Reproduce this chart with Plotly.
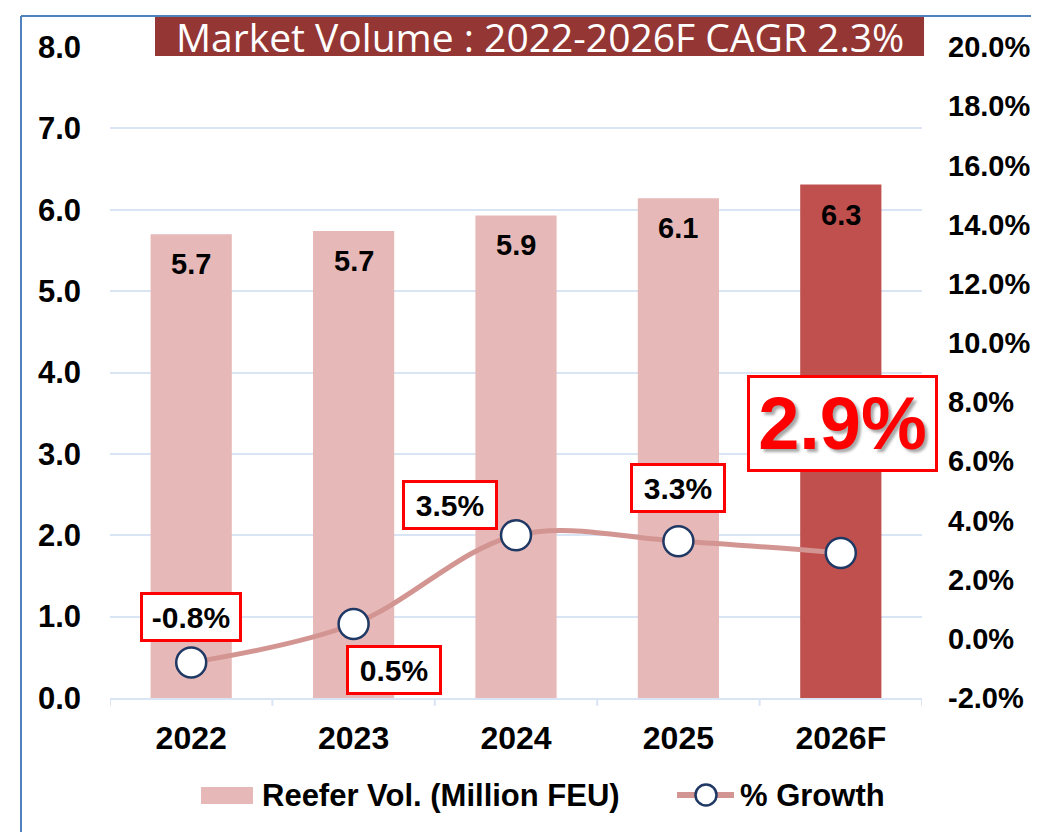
import plotly.graph_objects as go

# ---- data ----
categories = ["2022", "2023", "2024", "2025", "2026F"]
volume = [5.70, 5.74, 5.93, 6.14, 6.31]          # Reefer Vol. (Million FEU)
growth = [-0.8, 0.5, 3.5, 3.3, 2.9]              # % Growth
growth_ticks = [-2, 0, 2, 4, 6, 8, 10, 12, 14, 16, 18, 20]
growth_tick_labels = [f"{t:.1f}%" for t in growth_ticks]
title_text = "Market Volume : 2022-2026F CAGR 2.3%"
bar_name = "Reefer Vol. (Million FEU)"
line_name = "% Growth"

# ---- styles ----
FONT = "Liberation Sans, Arial, sans-serif"
LIGHT = "#E6B9B8"
DARK = "#C0504D"
GRID = "#D9E4F5"
LINE = "#D39592"
NAVY = "#1F3864"
bar_colors = [DARK if c.endswith("F") else LIGHT for c in categories]
xpos = list(range(len(categories)))

fig = go.Figure()
fig.add_trace(go.Bar(
    x=xpos, y=volume, name=bar_name, marker=dict(color=bar_colors, line=dict(width=0)),
    width=0.5, yaxis="y", showlegend=False,
))
fig.add_trace(go.Scatter(
    x=xpos, y=growth, name=line_name, yaxis="y2", mode="lines+markers", showlegend=False,
    line=dict(color=LINE, width=5, shape="spline", smoothing=1),
    marker=dict(size=30, color="white", line=dict(color=NAVY, width=2.5)),
))

# bar value labels
for i, v in zip(xpos, volume):
    fig.add_annotation(x=i, y=v, xref="x", yref="y", text=f"{v:.1f}", showarrow=False,
                       yanchor="middle", yshift=-30,
                       font=dict(family=FONT, size=29, color="black", weight="bold"))

# growth labels (boxed)
offsets = [(0, 45, 92), (40, -46, 86), (-66, 30, 86), (0, 53, 86)]  # (xshift, yshift, width)
for i, g, (dx, dy, w) in zip(xpos[:-1], growth[:-1], offsets):
    fig.add_annotation(x=i, y=g, xref="x", yref="y2", text=f"{g:.1f}%", showarrow=False,
                       xshift=dx, yshift=dy, width=w, height=40, borderpad=2,
                       bgcolor="white", bordercolor="#FF0000", borderwidth=3,
                       font=dict(family=FONT, size=30, color="black", weight="bold"))
# highlighted last label
fig.add_annotation(x=xpos[-1], y=growth[-1], xref="x", yref="y2", text=f"{growth[-1]:.1f}%",
                   showarrow=False, yshift=130, xshift=2, width=181, height=87, borderpad=2,
                   bgcolor="white", bordercolor="#FF0000", borderwidth=3,
                   font=dict(family=FONT, size=74, color="#FF0000", weight="bold",
                             shadow="3px 3px 3px rgba(0,0,0,0.35)"))

# title banner
fig.add_shape(type="rect", xref="paper", yref="paper", x0=0.0554, x1=1.0025, y0=0.986, y1=1.0476,
              fillcolor="#943634", line=dict(width=0), layer="above")
fig.add_annotation(xref="paper", yref="paper", x=(0.0554 + 1.0025) / 2, y=(0.986 + 1.0476) / 2,
                   text=title_text, showarrow=False, xanchor="center", yanchor="middle",
                   font=dict(family="Open Sans, sans-serif", size=39, color="white"))

# frame lines
fig.add_shape(type="line", xref="paper", yref="paper", x0=-0.1096, x1=-0.1096, y0=-0.22, y1=1.0476,
              line=dict(color="#4F81BD", width=2))
fig.add_shape(type="line", xref="paper", yref="paper", x0=-0.1096, x1=1.16, y0=1.0476, y1=1.0476,
              line=dict(color="#4F81BD", width=2))

# category boundary ticks
for b in [i - 0.5 for i in xpos] + [xpos[-1] + 0.5]:
    fig.add_shape(type="line", xref="x", yref="paper", x0=b, x1=b, y0=0, y1=-0.012,
                  line=dict(color=GRID, width=2))

# legend (drawn)
fig.add_shape(type="rect", xref="paper", yref="paper", x0=0.1121, x1=0.1761, y0=-0.1628, y1=-0.1367,
              fillcolor=LIGHT, line=dict(width=0))
fig.add_annotation(xref="paper", yref="paper", x=0.1847, y=-0.1505, xanchor="left", yanchor="middle",
                   text=bar_name, showarrow=False,
                   font=dict(family=FONT, size=31, color="black", weight="bold"))
fig.add_shape(type="line", xref="paper", yref="paper", x0=0.6983, x1=0.7685, y0=-0.1490, y1=-0.1490,
              line=dict(color=LINE, width=6))
fig.add_shape(type="circle", xref="paper", yref="paper", x0=0.7340 - 0.01293, x1=0.7340 + 0.01293,
              y0=-0.1490 - 0.01613, y1=-0.1490 + 0.01613,
              fillcolor="white", line=dict(color=NAVY, width=2.5))
fig.add_annotation(xref="paper", yref="paper", x=0.7734, y=-0.1505, xanchor="left", yanchor="middle",
                   text=line_name, showarrow=False,
                   font=dict(family=FONT, size=31, color="black", weight="bold"))

fig.update_layout(
    width=1031, height=824, autosize=False,
    margin=dict(l=102, r=117, t=39, b=134),
    plot_bgcolor="white", paper_bgcolor="white",
    font=dict(family=FONT, color="black"),
    showlegend=False,
    xaxis=dict(range=[-0.5, len(categories) - 0.5], tickvals=xpos, ticktext=categories,
               showline=True, linecolor=GRID, linewidth=2, ticks="", showgrid=False,
               zeroline=False, tickangle=0, automargin=False,
               tickfont=dict(family=FONT, size=32, color="black", weight="bold"),
               ticklabelstandoff=11),
    yaxis=dict(range=[0, 8], dtick=1, tickformat=".1f", showgrid=True, gridcolor=GRID, gridwidth=2,
               zeroline=False, showline=False, ticks="", automargin=False,
               tickfont=dict(family=FONT, size=31, color="black", weight="bold"),
               ticklabelstandoff=28),
    yaxis2=dict(range=[-2, 20], tickvals=growth_ticks, ticktext=growth_tick_labels,
                overlaying="y", side="right",
                showgrid=False, zeroline=False, showline=False, ticks="", automargin=False,
                tickfont=dict(family=FONT, size=29, color="black", weight="bold"),
                ticklabelstandoff=25),
)

fig.write_html("out.html")
